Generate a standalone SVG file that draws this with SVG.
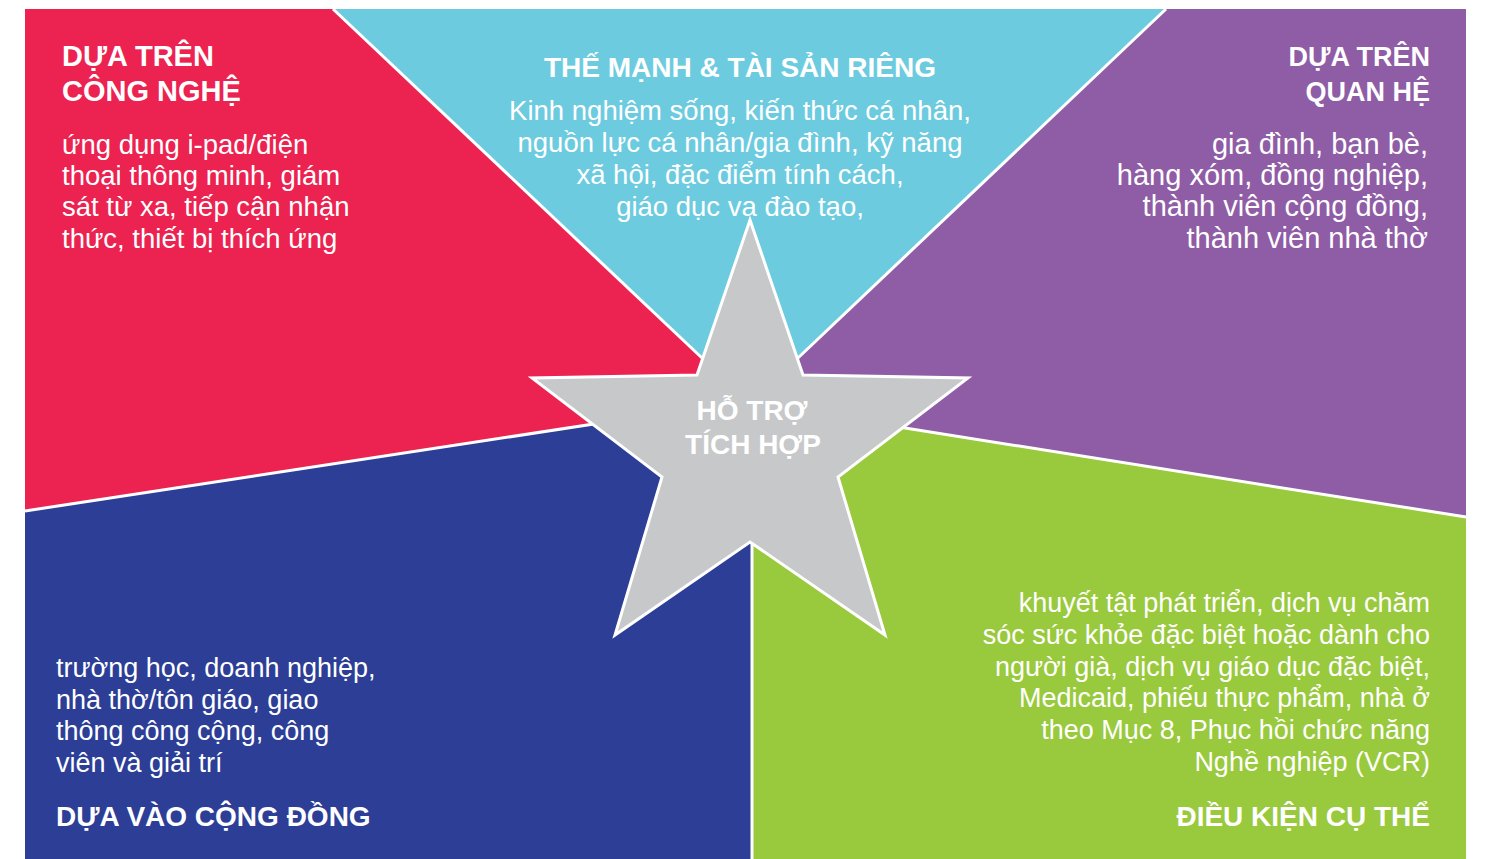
<svg xmlns="http://www.w3.org/2000/svg" width="1486" height="859" viewBox="0 0 1486 859">
<style>
.h{font-family:"Liberation Sans",Arial,sans-serif;font-weight:bold;font-size:28px;fill:#fff}
.b{font-family:"Liberation Sans",Arial,sans-serif;font-size:27px;fill:#fff}
.h29{font-size:29px}
.h27{font-size:27px}
.b275{font-size:27.5px}
.b29{font-size:29px}
.sep{stroke:#fff;stroke-width:3;fill:none}
.m{text-anchor:middle}
.e{text-anchor:end}
</style>
<rect width="1486" height="859" fill="#fff"/>
<g id="red">
<polygon points="25,9 333,9 720,375 750,440 620,420 25,511" fill="#ec2250"/>
<text class="h h29" x="62" y="66">DỰA TRÊN</text>
<text class="h h29" x="62" y="101">CÔNG NGHỆ</text>
<text class="b b275" x="62" y="154">ứng dụng i-pad/điện</text>
<text class="b b275" x="62" y="185">thoại thông minh, giám</text>
<text class="b b275" x="62" y="216">sát từ xa, tiếp cận nhận</text>
<text class="b b275" x="62" y="248">thức, thiết bị thích ứng</text>
</g>
<g id="cyan">
<polygon points="333,9 1166,9 780,375 750,440 720,375" fill="#6dcbe0"/>
<text class="h m" x="740" y="77">THẾ MẠNH &amp; TÀI SẢN RIÊNG</text>
<text class="b b275 m" x="740" y="120">Kinh nghiệm sống, kiến thức cá nhân,</text>
<text class="b b275 m" x="740" y="152">nguồn lực cá nhân/gia đình, kỹ năng</text>
<text class="b b275 m" x="740" y="184">xã hội, đặc điểm tính cách,</text>
<text class="b b275 m" x="740" y="216">giáo dục va đào tạo,</text>
</g>
<g id="purple">
<polygon points="1166,9 1466,9 1466,517 880,424 750,440 780,375" fill="#8f5ca6"/>
<text class="h h27 e" x="1430" y="66">DỰA TRÊN</text>
<text class="h h27 e" x="1430" y="101">QUAN HỆ</text>
<text class="b b29 e" x="1428" y="154">gia đình, bạn bè,</text>
<text class="b b29 e" x="1428" y="185">hàng xóm, đồng nghiệp,</text>
<text class="b b29 e" x="1428" y="216">thành viên cộng đồng,</text>
<text class="b b29 e" x="1428" y="248">thành viên nhà thờ</text>
</g>
<g id="green">
<polygon points="1466,517 1466,859 752,859 752,530 750,440 880,424" fill="#99c93c"/>
<text class="b e" x="1430" y="612">khuyết tật phát triển, dịch vụ chăm</text>
<text class="b e" x="1430" y="644">sóc sức khỏe đặc biệt hoặc dành cho</text>
<text class="b e" x="1430" y="676">người già, dịch vụ giáo dục đặc biệt,</text>
<text class="b e" x="1430" y="707">Medicaid, phiếu thực phẩm, nhà ở</text>
<text class="b e" x="1430" y="739">theo Mục 8, Phục hồi chức năng</text>
<text class="b e" x="1430" y="771">Nghề nghiệp (VCR)</text>
<text class="h e" x="1430" y="826">ĐIỀU KIỆN CỤ THỂ</text>
</g>
<g id="blue">
<polygon points="25,511 620,420 750,440 752,530 752,859 25,859" fill="#2c3e96"/>
<text class="b" x="56" y="677">trường học, doanh nghiệp,</text>
<text class="b" x="56" y="709">nhà thờ/tôn giáo, giao</text>
<text class="b" x="56" y="740">thông công cộng, công</text>
<text class="b" x="56" y="772">viên và giải trí</text>
<text class="h" x="56" y="826">DỰA VÀO CỘNG ĐỒNG</text>
</g>
<g id="connectors">
<line class="sep" x1="333" y1="9" x2="720" y2="375"/>
<line class="sep" x1="1166" y1="9" x2="780" y2="375"/>
<line class="sep" x1="1466" y1="517" x2="880" y2="424"/>
<line class="sep" x1="25" y1="511" x2="620" y2="420"/>
<line class="sep" x1="752" y1="859" x2="752" y2="530"/>
</g>
<g id="star">
<polygon points="750,220 697,375 532,378 662,477 615,635 750,542 885,635 838,477 968,378 803,375" fill="#c7c8ca" stroke="#fff" stroke-width="3"/>
<text class="h m" x="752" y="420">HỖ TRỢ</text>
<text class="h m" x="753" y="454">TÍCH HỢP</text>
</g>
</svg>
